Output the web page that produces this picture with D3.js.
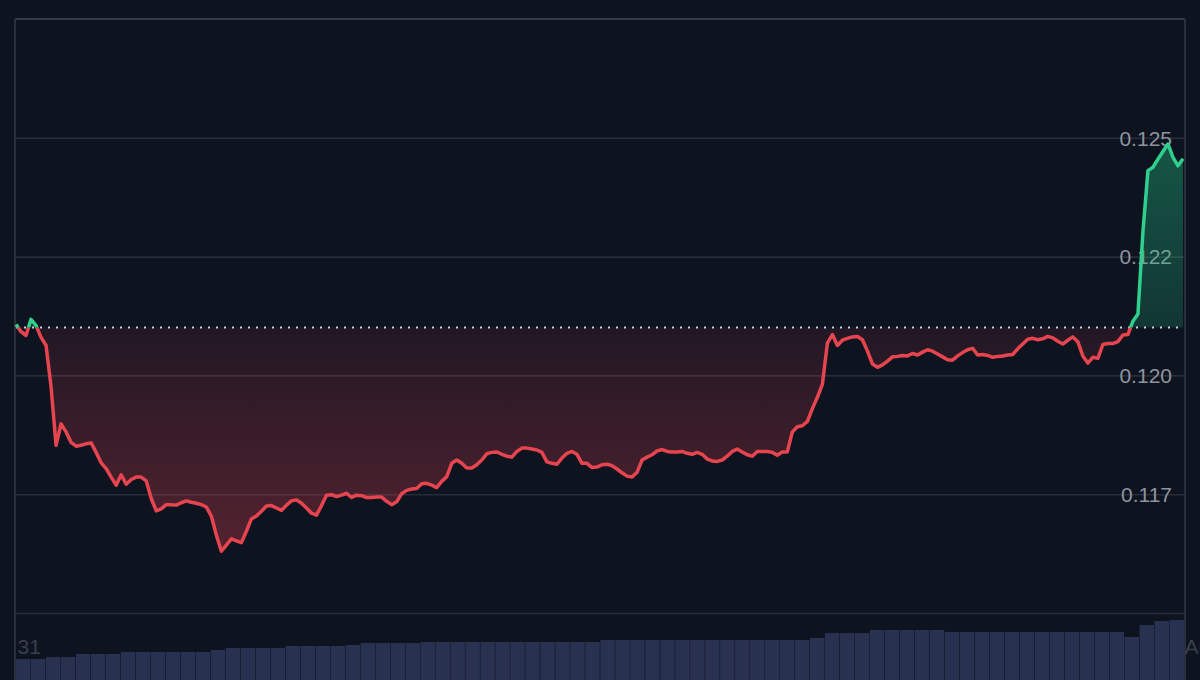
<!DOCTYPE html>
<html><head><meta charset="utf-8">
<script src="https://cdn.jsdelivr.net/npm/d3@7"></script>
<style>html,body{margin:0;padding:0;background:#0e1320;overflow:hidden}</style>
</head><body><svg id="c" width="1200" height="680"></svg>
<script>
// ---- data ----
const prices = [
0.12107,0.12092,0.12084,0.12118,0.12105,0.12080,0.12063,0.11976,0.11853,0.11898,
0.11881,0.11859,0.11851,0.11853,0.11856,0.11858,0.11838,0.11816,0.11804,0.11786,
0.11769,0.11791,0.11771,0.11781,0.11786,0.11786,0.11778,0.11741,0.11715,0.11719,
0.11728,0.11728,0.11727,0.11732,0.11736,0.11733,0.11731,0.11728,0.11723,0.11704,
0.11664,0.11630,0.11643,0.11656,0.11652,0.11648,0.11672,0.11698,0.11704,0.11714,
0.11725,0.11726,0.11721,0.11716,0.11727,0.11736,0.11738,0.11731,0.11721,0.11710,
0.11706,0.11726,0.11748,0.11749,0.11745,0.11748,0.11752,0.11743,0.11748,0.11747,
0.11743,0.11743,0.11744,0.11744,0.11735,0.11728,0.11734,0.11751,0.11758,0.11761,
0.11762,0.11772,0.11773,0.11769,0.11764,0.11777,0.11787,0.11815,0.11822,0.11815,
0.11805,0.11805,0.11812,0.11822,0.11835,0.11838,0.11839,0.11834,0.11830,0.11828,
0.11840,0.11847,0.11847,0.11845,0.11843,0.11838,0.11818,0.11815,0.11813,0.11826,
0.11836,0.11840,0.11834,0.11815,0.11815,0.11806,0.11807,0.11812,0.11813,0.11810,
0.11803,0.11795,0.11788,0.11786,0.11796,0.11822,0.11828,0.11833,0.11841,0.11844,
0.11840,0.11839,0.11839,0.11840,0.11836,0.11834,0.11838,0.11834,0.11824,0.11820,
0.11819,0.11822,0.11830,0.11840,0.11845,0.11839,0.11833,0.11830,0.11840,0.11840,
0.11840,0.11838,0.11832,0.11839,0.11839,0.11881,0.11892,0.11894,0.11903,0.11930,
0.11954,0.11981,0.12068,0.12086,0.12063,0.12074,0.12078,0.12081,0.12082,0.12075,
0.12051,0.12024,0.12017,0.12022,0.12030,0.12039,0.12040,0.12042,0.12041,0.12046,
0.12043,0.12049,0.12054,0.12051,0.12045,0.12039,0.12033,0.12032,0.12041,0.12048,
0.12054,0.12057,0.12043,0.12044,0.12042,0.12038,0.12040,0.12041,0.12043,0.12044,
0.12056,0.12066,0.12076,0.12078,0.12075,0.12077,0.12082,0.12079,0.12072,0.12066,
0.12074,0.12081,0.12071,0.12041,0.12026,0.12038,0.12036,0.12065,0.12067,0.12067,
0.12071,0.12085,0.12086,0.12114,0.12129,0.12302,0.12431,0.12438,0.12455,0.12471,
0.12487,0.12459,0.12441,0.12456
];
const baselinePrice = 0.12101;
const volumes = [
21,21,23,23,26,26,26,28,28,28,28,28,28,30,32,32,32,32,34,34,
34,34,35,37,37,37,37,38,38,38,38,38,38,38,38,38,38,38,38,40,
40,40,40,40,40,40,40,40,40,40,40,40,40,42,47,47,47,50,50,50,
50,50,48,48,48,48,48,48,48,48,48,48,48,48,43,55,59,60
];
const startTime = new Date(2024, 6, 31, 0, 0);
const endTime = new Date(2024, 7, 1, 0, 0);
const xTickDates = [startTime, endTime];
const xTickLabels = ["31", "Aug"];
const yTickValues = [0.125, 0.1225, 0.12, 0.1175];
const yTickLabels = ["0.125", "0.122", "0.120", "0.117"];
const gridValues = [0.125, 0.1225, 0.12, 0.1175, 0.115];
const topValue = 0.1275;

// ---- layout ----
const W = 1200, H = 680;
const L = 15, R = 1185, T = 19;
const svg = d3.select("#c");
const step = (endTime - startTime) / (prices.length - 1);
const data = prices.map((v, i) => ({t: new Date(+startTime + i * step), v}));

const x = d3.scaleTime().domain([startTime, endTime]).range([16, 1183]);
const y = d3.scaleLinear().domain([0.115, topValue]).range([613, T]);
const xb = d3.scaleBand().domain(d3.range(volumes.length)).range([16, 1184]).paddingInner(0.035);
const vy = d3.scaleLinear().domain([0, 60]).range([H, 620]);

svg.append("rect").attr("width", W).attr("height", H).attr("fill", "#0e1320");

const defs = svg.append("defs");
const by = y(baselinePrice);
const minV = d3.min(prices), maxV = d3.max(prices);
const gRed = defs.append("linearGradient").attr("id", "gRed")
  .attr("gradientUnits", "userSpaceOnUse").attr("x1", 0).attr("x2", 0)
  .attr("y1", by).attr("y2", y(minV));
gRed.append("stop").attr("offset", 0).attr("stop-color", "#e8434f").attr("stop-opacity", 0.09);
gRed.append("stop").attr("offset", 1).attr("stop-color", "#e8434f").attr("stop-opacity", 0.32);
const gGreen = defs.append("linearGradient").attr("id", "gGreen")
  .attr("gradientUnits", "userSpaceOnUse").attr("x1", 0).attr("x2", 0)
  .attr("y1", by).attr("y2", y(maxV));
gGreen.append("stop").attr("offset", 0).attr("stop-color", "#22c384").attr("stop-opacity", 0.2);
gGreen.append("stop").attr("offset", 1).attr("stop-color", "#22c384").attr("stop-opacity", 0.38);
defs.append("clipPath").attr("id", "below").append("rect")
  .attr("x", 0).attr("y", by).attr("width", W).attr("height", H - by);
defs.append("clipPath").attr("id", "above").append("rect")
  .attr("x", 0).attr("y", 0).attr("width", W).attr("height", by);

// grid
const grid = svg.append("g").attr("transform", `translate(${L},0)`)
  .call(d3.axisLeft(y).tickValues(gridValues).tickSize(-(R - L)).tickFormat(""));
grid.select(".domain").remove();
grid.selectAll(".tick line").attr("stroke", "#282d39").attr("stroke-width", 1.6);

// frame
svg.append("line").attr("x1", L).attr("x2", R).attr("y1", y(topValue)).attr("y2", y(topValue))
  .attr("stroke", "#363b47").attr("stroke-width", 2);
svg.append("line").attr("x1", L).attr("x2", L).attr("y1", y(topValue)).attr("y2", H)
  .attr("stroke", "#2a2f3b").attr("stroke-width", 2);
svg.append("line").attr("x1", R).attr("x2", R).attr("y1", y(topValue)).attr("y2", H)
  .attr("stroke", "#2a2f3b").attr("stroke-width", 2);

// volume
svg.append("g").selectAll("rect").data(volumes).join("rect")
  .attr("x", (d, i) => xb(i)).attr("width", xb.bandwidth())
  .attr("y", d => vy(d)).attr("height", d => H - vy(d))
  .attr("fill", "#28314f");

// x labels
const xa = svg.append("g").attr("transform", "translate(0,647)")
  .call(d3.axisBottom(x).tickValues(xTickDates).tickFormat((d, i) => xTickLabels[i]).tickSize(0));
xa.select(".domain").remove();
xa.selectAll("text").attr("y", 0).attr("dy", "0.35em").attr("x", 1).attr("text-anchor", "start")
  .attr("fill", "#3a3f4b").style("font", "21px 'Liberation Sans', Arial, sans-serif");

// y labels
const ya = svg.append("g").attr("transform", "translate(1172,0)")
  .call(d3.axisRight(y).tickValues(yTickValues).tickFormat((d, i) => yTickLabels[i]).tickSize(0));
ya.select(".domain").remove();
ya.selectAll("text").attr("x", 0).attr("dy", "0.35em").attr("text-anchor", "end")
  .attr("fill", "#8e949f").style("font", "21px 'Liberation Sans', Arial, sans-serif");

// areas
const area = d3.area().x(d => x(d.t)).y0(by).y1(d => y(d.v));
svg.append("path").datum(data).attr("d", area).attr("fill", "url(#gRed)").attr("clip-path", "url(#below)");
svg.append("path").datum(data).attr("d", area).attr("fill", "url(#gGreen)").attr("clip-path", "url(#above)");

// baseline
svg.append("line").attr("x1", 16).attr("x2", 1183).attr("y1", by).attr("y2", by)
  .attr("stroke", "#c9ccd3").attr("stroke-width", 2).attr("stroke-dasharray", "2,6");

// line
const line = d3.line().x(d => x(d.t)).y(d => y(d.v));
svg.append("path").datum(data).attr("d", line).attr("fill", "none")
  .attr("stroke", "#e6454f").attr("stroke-width", 3.5).attr("stroke-linejoin", "round")
  .attr("clip-path", "url(#below)");
svg.append("path").datum(data).attr("d", line).attr("fill", "none")
  .attr("stroke", "#30cf8d").attr("stroke-width", 3.5).attr("stroke-linejoin", "round")
  .attr("clip-path", "url(#above)");
</script></body></html>
